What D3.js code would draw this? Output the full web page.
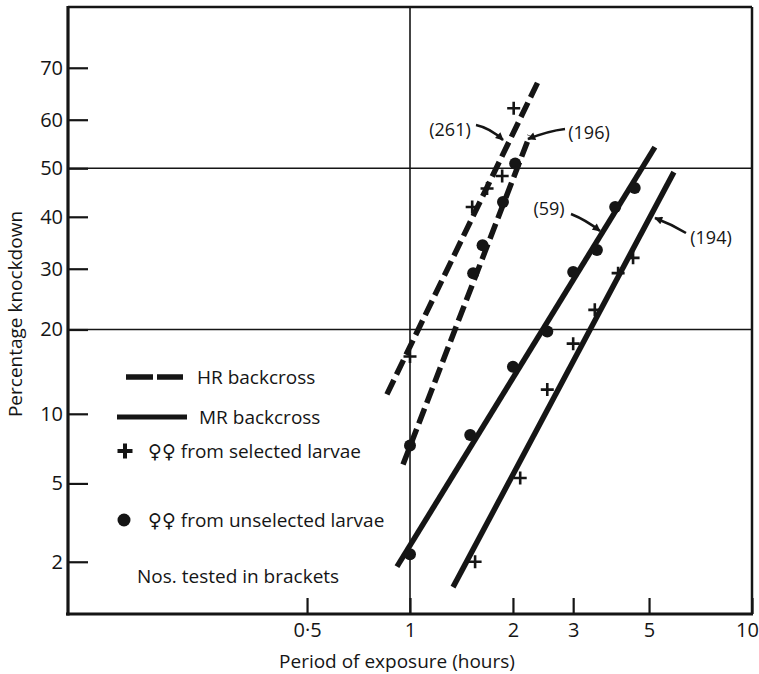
<!DOCTYPE html>
<html>
<head>
<meta charset="utf-8">
<script src="https://cdn.jsdelivr.net/npm/d3@7/dist/d3.min.js"></script>
<style>
  html, body { margin: 0; padding: 0; background: #fff; }
  svg { display: block; }
  text { font-family: "Open Sans", "DejaVu Sans", sans-serif; fill: #151515; }
</style>
</head>
<body>
<svg id="chart" width="759" height="674"></svg>
<script>
// ---------------- data ----------------
const xTickValues = [0.5, 1, 2, 3, 5, 10];
const xTickLabels = ["0·5", "1", "2", "3", "5", "10"];
const yTickValues = [2, 5, 10, 20, 30, 40, 50, 60, 70];
const yGridValues = [20, 50];
const xGridValues = [1];

// [hours, % knockdown]
const hrSelected   = [[1.0, 16.3], [1.52, 42], [1.68, 45.8], [1.86, 48.4], [2.01, 62.3]];
const hrUnselected = [[1.0, 7.4], [1.53, 29.2], [1.63, 34.4], [1.87, 43], [2.03, 51]];
const mrUnselected = [[1.0, 2.2], [1.5, 8.2], [2.0, 15], [2.52, 19.7], [3.0, 29.4], [3.52, 33.5], [3.98, 42], [4.54, 45.9]];
const mrSelected   = [[1.55, 2.0], [2.1, 5.3], [2.52, 12.4], [3.0, 18], [3.47, 23], [4.06, 29.2], [4.49, 32]];

// fitted lines (end points)
const hrSelectedLine   = [[0.856, 11.9], [2.40, 68.2]];
const hrUnselectedLine = [[0.954, 6.1], [2.24, 56.8]];
const mrUnselectedLine = [[0.916, 1.88], [5.2, 54.4]];
const mrSelectedLine   = [[1.336, 1.44], [5.91, 49.2]];

const lineLabels = ["(261)", "(196)", "(59)", "(194)"];
const legendLabels = ["HR backcross", "MR backcross", "\u2640\u2640 from selected larvae", "\u2640\u2640 from unselected larvae", "Nos. tested in brackets"];
const xTitle = "Period of exposure (hours)";
const yTitle = "Percentage knockdown";

// ---------------- probit helper ----------------
function qnorm(p) {
  const a = [-3.969683028665376e+01, 2.209460984245205e+02, -2.759285104469687e+02, 1.383577518672690e+02, -3.066479806614716e+01, 2.506628277459239e+00];
  const b = [-5.447609879822406e+01, 1.615858368580409e+02, -1.556989798598866e+02, 6.680131188771972e+01, -1.328068155288572e+01];
  const c = [-7.784894002430293e-03, -3.223964580411365e-01, -2.400758277161838e+00, -2.549732539343734e+00, 4.374664141464968e+00, 2.938163982698783e+00];
  const d = [7.784695709041462e-03, 3.224671290700398e-01, 2.445134137142996e+00, 3.754408661907416e+00];
  const pl = 0.02425, ph = 1 - pl;
  let q, r;
  if (p < pl) {
    q = Math.sqrt(-2 * Math.log(p));
    return (((((c[0]*q+c[1])*q+c[2])*q+c[3])*q+c[4])*q+c[5]) / ((((d[0]*q+d[1])*q+d[2])*q+d[3])*q+1);
  }
  if (p <= ph) {
    q = p - 0.5; r = q * q;
    return (((((a[0]*r+a[1])*r+a[2])*r+a[3])*r+a[4])*r+a[5])*q / (((((b[0]*r+b[1])*r+b[2])*r+b[3])*r+b[4])*r+1);
  }
  q = Math.sqrt(-2 * Math.log(1 - p));
  return -(((((c[0]*q+c[1])*q+c[2])*q+c[3])*q+c[4])*q+c[5]) / ((((d[0]*q+d[1])*q+d[2])*q+d[3])*q+1);
}

// ---------------- layout ----------------
const L = 68, R = 752, T = 7, B = 614;
const ink = "#151515";
const svg = d3.select("#chart");

const x = d3.scaleLog().domain([0.1, 10]).range([L, R]);
const yz = d3.scaleLinear().domain([qnorm(0.01), qnorm(0.80)]).range([B, T]);
const y = p => yz(qnorm(p / 100));

// grid lines
svg.selectAll(".hgrid").data(yGridValues).enter().append("line")
  .attr("x1", L).attr("x2", R).attr("y1", d => y(d)).attr("y2", d => y(d))
  .attr("stroke", ink).attr("stroke-width", 1.6);
svg.selectAll(".vgrid").data(xGridValues).enter().append("line")
  .attr("x1", d => x(d)).attr("x2", d => x(d)).attr("y1", T).attr("y2", B)
  .attr("stroke", ink).attr("stroke-width", 1.6);

// axes
const yAxis = d3.axisLeft(d3.scaleLinear().domain(yz.domain()).range(yz.range()))
  .tickValues(yTickValues.map(v => qnorm(v / 100)))
  .tickFormat((d, i) => String(yTickValues[i]))
  .tickSizeInner(-20).tickSizeOuter(0).tickPadding(5);
const gy = svg.append("g").attr("transform", `translate(${L},0)`).call(yAxis);
gy.select(".domain").remove();
gy.selectAll(".tick line").attr("stroke", ink).attr("stroke-width", 2.2);
gy.selectAll(".tick text").attr("font-size", 20).attr("font-family", "Open Sans, sans-serif").attr("fill", ink);

const xAxis = d3.axisBottom(x)
  .tickValues(xTickValues)
  .tickFormat((d, i) => xTickLabels[i])
  .tickSizeInner(-16).tickSizeOuter(0).tickPadding(9);
const gx = svg.append("g").attr("transform", `translate(0,${B})`).call(xAxis);
gx.select(".domain").remove();
gx.selectAll(".tick line").attr("stroke", ink).attr("stroke-width", 2.2);
gx.selectAll(".tick text").attr("font-size", 20).attr("font-family", "Open Sans, sans-serif").attr("fill", ink)
  .attr("dx", (d, i) => i === xTickValues.length - 1 ? -5 : 0);

// frame
svg.append("line").attr("x1", L).attr("x2", R).attr("y1", T).attr("y2", T).attr("stroke", ink).attr("stroke-width", 2.5);
svg.append("line").attr("x1", R).attr("x2", R).attr("y1", T).attr("y2", B).attr("stroke", ink).attr("stroke-width", 2.5);
svg.append("line").attr("x1", L).attr("x2", L).attr("y1", T - 1).attr("y2", B + 1.5).attr("stroke", ink).attr("stroke-width", 3.2);
svg.append("line").attr("x1", L - 2).attr("x2", R + 1).attr("y1", B).attr("y2", B).attr("stroke", ink).attr("stroke-width", 3.2);

// axis titles
svg.append("text").attr("x", 397).attr("y", 668).attr("text-anchor", "middle")
  .attr("font-size", 19).text(xTitle);
svg.append("text").attr("transform", "translate(22,314) rotate(-90)").attr("text-anchor", "middle")
  .attr("font-size", 19).text(yTitle);

// fitted lines
const lineGen = d3.line().x(d => x(d[0])).y(d => y(d[1]));
const fitted = [
  { data: hrSelectedLine, dash: "16,6" },
  { data: hrUnselectedLine, dash: "16,6" },
  { data: mrUnselectedLine, dash: null },
  { data: mrSelectedLine, dash: null }
];
svg.selectAll(".fit").data(fitted).enter().append("path")
  .attr("d", d => lineGen(d.data))
  .attr("fill", "none").attr("stroke", ink).attr("stroke-width", 5.5)
  .attr("stroke-dasharray", d => d.dash);

// markers
const plusPath = s => `M${-s},0H${s}M0,${-s}V${s}`;
function plusMarks(data) {
  svg.append("g").selectAll("path").data(data).enter().append("path")
    .attr("transform", d => `translate(${x(d[0])},${y(d[1])})`)
    .attr("d", plusPath(6.5)).attr("stroke", ink).attr("stroke-width", 2.6).attr("fill", "none");
}
function dotMarks(data) {
  svg.append("g").selectAll("circle").data(data).enter().append("circle")
    .attr("cx", d => x(d[0])).attr("cy", d => y(d[1])).attr("r", 6).attr("fill", ink);
}
plusMarks(hrSelected);
dotMarks(hrUnselected);
dotMarks(mrUnselected);
plusMarks(mrSelected);

// arrow annotations
svg.append("defs").append("marker").attr("id", "ah")
  .attr("viewBox", "0 0 10 10").attr("refX", 9).attr("refY", 5)
  .attr("markerWidth", 10).attr("markerHeight", 8).attr("markerUnits", "userSpaceOnUse")
  .attr("orient", "auto")
  .append("path").attr("d", "M0,0L10,5L0,10Z").attr("fill", ink);

const annotations = [
  { label: lineLabels[0], tx: 450, ty: 136, anchor: "middle", path: "M476,125Q490,128 503,140" },
  { label: lineLabels[1], tx: 589, ty: 139, anchor: "middle", path: "M565,129Q548,131 528,139" },
  { label: lineLabels[2], tx: 549, ty: 215, anchor: "middle", path: "M571,214Q586,220 600,231" },
  { label: lineLabels[3], tx: 711, ty: 244, anchor: "middle", path: "M686,233Q671,224 655,218" }
];
annotations.forEach(a => {
  svg.append("text").attr("x", a.tx).attr("y", a.ty).attr("text-anchor", a.anchor)
    .attr("font-size", 18).text(a.label);
  svg.append("path").attr("d", a.path).attr("fill", "none").attr("stroke", ink)
    .attr("stroke-width", 2.6).attr("marker-end", "url(#ah)");
});

// legend
const lg = svg.append("g");
lg.append("line").attr("x1", 126).attr("x2", 183).attr("y1", 377).attr("y2", 377)
  .attr("stroke", ink).attr("stroke-width", 5.5).attr("stroke-dasharray", "27,4");
lg.append("line").attr("x1", 117).attr("x2", 187).attr("y1", 417).attr("y2", 417)
  .attr("stroke", ink).attr("stroke-width", 5);
lg.append("path").attr("transform", "translate(125,451)").attr("d", plusPath(7.5))
  .attr("stroke", ink).attr("stroke-width", 4).attr("fill", "none");
lg.append("circle").attr("cx", 124).attr("cy", 520).attr("r", 6.5).attr("fill", ink);
const legendPos = [[197, 384], [199, 424], [148, 458], [148, 527], [137, 583]];
legendLabels.forEach((t, i) => {
  lg.append("text").attr("x", legendPos[i][0]).attr("y", legendPos[i][1])
    .attr("font-size", 19).text(t);
});
</script>
</body>
</html>
